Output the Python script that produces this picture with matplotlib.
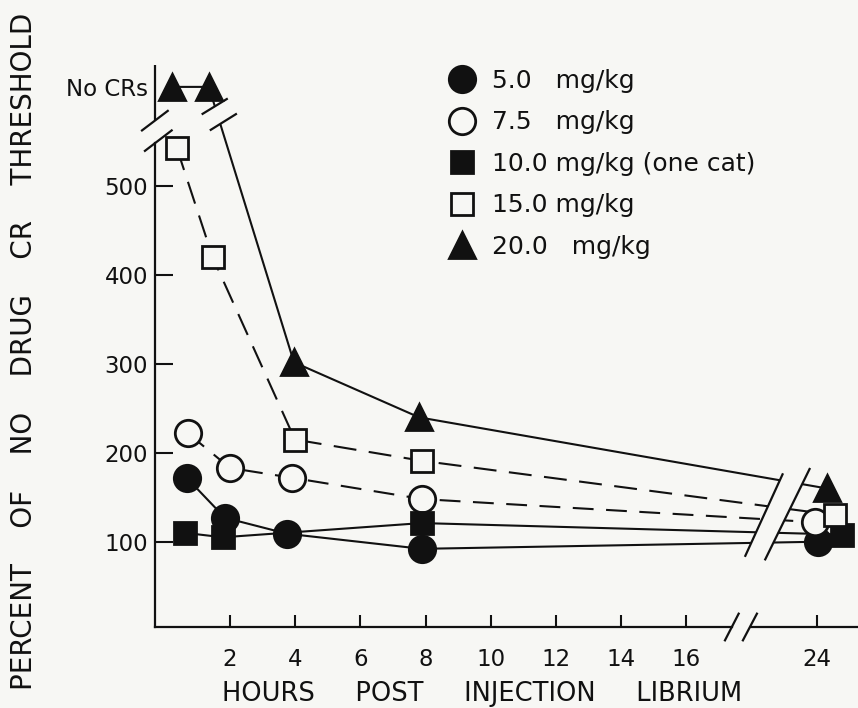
import numpy as np
import matplotlib.pyplot as plt
from matplotlib.patches import Polygon

# values: hours post injection vs percent of no-drug CR threshold
NO_CR = 612  # height of the "No CRs" row on the y axis

hrs_5 = [0.67, 1.84, 3.75, 7.88, 24.03]
pct_5 = [172, 127, 109, 92, 100]

hrs_75 = [0.71, 2.0, 3.9, 7.9, 23.94]
pct_75 = [222, 183, 172, 148, 122]

hrs_10 = [0.61, 1.78, 7.88, 24.77]
pct_10 = [110, 105, 121, 108]

hrs_15 = [0.37, 1.47, 3.99, 7.9, 24.55]
pct_15 = [543, 420, 215, 191, 130]

hrs_20 = [0.22, 1.35, 3.96, 7.8, 24.3]
pct_20 = [NO_CR, NO_CR, 302, 240, 160]

labels = ['5.0   mg/kg', '7.5   mg/kg', '10.0 mg/kg (one cat)', '15.0 mg/kg', '20.0   mg/kg']
xticks = [2, 4, 6, 8, 10, 12, 14, 16, 24]
xtick_labels = ['2', '4', '6', '8', '10', '12', '14', '16', '24']
yticks = [100, 200, 300, 400, 500, NO_CR]
ytick_labels = ['100', '200', '300', '400', '500', 'No CRs']

BG = '#f7f7f4'
INK = '#111111'


# broken time axis: 17.5..23.5 h squeezed into a short gap
def fwd(x):
    x = np.asarray(x, dtype=float)
    return np.where(x <= 17.5, x, np.where(x < 23.5, 17.5 + (x - 17.5) / 3.0, x - 4.0))


def inv(u):
    u = np.asarray(u, dtype=float)
    return np.where(u <= 17.5, u, np.where(u < 19.5, 17.5 + (u - 17.5) * 3.0, u + 4.0))


def h(u):
    return float(inv(u))


plt.rcParams['font.family'] = 'DejaVu Sans'

fig = plt.figure(figsize=(8.58, 7.08), dpi=100, facecolor=BG)
ax = fig.add_axes([0.1807, 0.1144, 0.8193, 0.798])
ax.set_facecolor(BG)
ax.set_xscale('function', functions=(fwd, inv))

series = [
    (hrs_5, pct_5, '-', 'o', INK, 19),
    (hrs_75, pct_75, (0, (10, 6)), 'o', BG, 19),
    (hrs_10, pct_10, '-', 's', INK, 16),
    (hrs_15, pct_15, (0, (11, 6)), 's', BG, 16),
    (hrs_20, pct_20, '-', '^', INK, 19),
]

handles = []
for (xs, ys, ls, mk, fc, ms), lab in zip(series, labels):
    ax.plot(xs, ys, ls=ls, color=INK, lw=1.5, zorder=2)
    ln, = ax.plot(xs, ys, ls='none', marker=mk, ms=ms, mfc=fc, mec=INK,
                  mew=2, zorder=4, label=lab)
    handles.append(ln)

ax.set_xlim(-0.3, h(21.26))
ax.set_ylim(4, 640)

# breaks through the data lines: white gap between two slashes
def gap(a0, a1, b0, b1):
    ax.add_patch(Polygon([a0, a1, b1, b0], closed=True, fc=BG, ec='none', zorder=3))
    for p, q in [(a0, a1), (b0, b1)]:
        ax.plot([p[0], q[0]], [p[1], q[1]], color=INK, lw=1.6, zorder=3.5,
                clip_on=False, solid_capstyle='butt')

gap((h(17.79), 83), (h(18.96), 177), (h(18.40), 79), (h(19.79), 183))
gap((h(1.13), 581), (h(1.93), 599), (h(1.38), 563), (h(2.21), 582))

# axis breaks
for s in ['top', 'right']:
    ax.spines[s].set_visible(False)
for s in ['left', 'bottom']:
    ax.spines[s].set_linewidth(1.6)
    ax.spines[s].set_color(INK)
ax.spines['left'].set_bounds(4, 549)
ax.spines['bottom'].set_bounds(-0.3, 17.39)
ax.plot([-0.3, -0.3], [575, 637], color=INK, lw=1.6, clip_on=False, solid_capstyle='butt')
ax.plot([h(17.94), h(21.26)], [4, 4], color=INK, lw=1.6, clip_on=False, solid_capstyle='butt')
for p, q in [((-0.7, 563), (0.09, 585)), ((-0.61, 540), (0.21, 563)),
             ((17.18, -11), (17.6, 19)), ((17.73, -11), (18.16, 19))]:
    ax.plot([h(p[0]), h(q[0])], [p[1], q[1]], color=INK, lw=1.6, clip_on=False)

ax.set_xticks(xticks)
ax.set_xticklabels(xtick_labels)
ax.set_yticks(yticks)
ax.set_yticklabels(ytick_labels)
ax.xaxis.set_minor_locator(plt.NullLocator())
ax.tick_params(axis='x', direction='in', length=9, width=1.5, pad=15, labelsize=16.5, colors=INK)
ax.tick_params(axis='y', direction='in', length=13, width=1.5, pad=5, labelsize=16.5, colors=INK)
ax.yaxis.get_major_ticks()[-1].tick1line.set_visible(False)

ax.set_xlabel('HOURS     POST     INJECTION     LIBRIUM', fontsize=18.5, color=INK)
ax.xaxis.set_label_coords(0.465, -0.095)
ax.set_ylabel('PERCENT    OF    NO    DRUG    CR    THRESHOLD', fontsize=20, color=INK, va='center')
ax.yaxis.set_label_coords(-0.186, 0.487)

leg = ax.legend(handles=handles, loc='upper left', bbox_to_anchor=(0.418, 0.988),
                frameon=False, fontsize=18, handlelength=1.05, handletextpad=0.68,
                labelspacing=0.70, borderpad=0, borderaxespad=0)
for t in leg.get_texts():
    t.set_color(INK)

fig.savefig('out.png', dpi=100, facecolor=BG)
